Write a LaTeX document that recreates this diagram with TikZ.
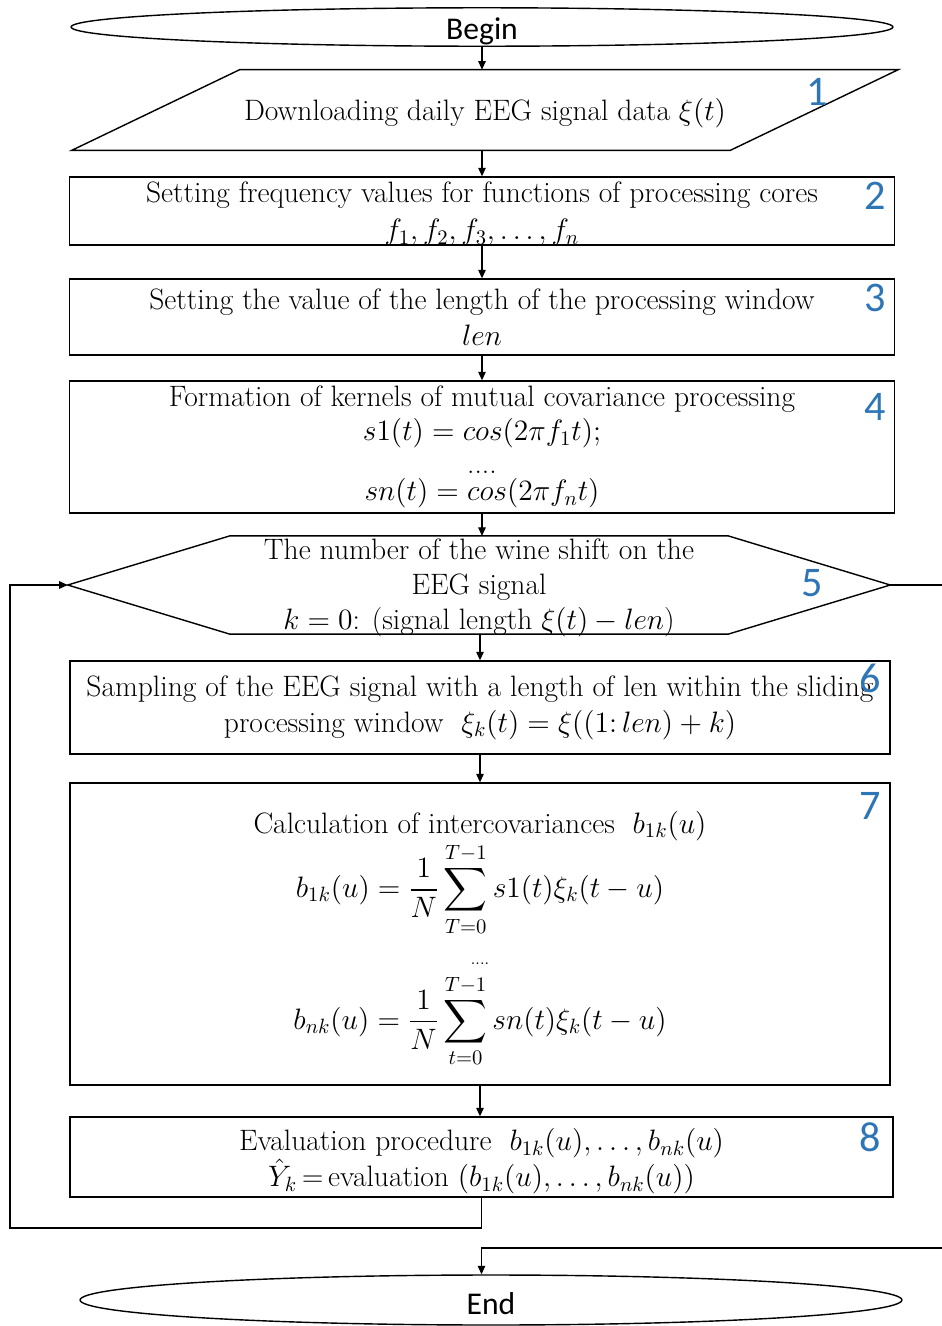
\RequirePackage{fix-cm}
\documentclass[tikz,border=0pt]{standalone}
\usepackage{amsmath}
\usepackage{fontspec}
\newfontfamily\calibri{Carlito}
\usetikzlibrary{calc, positioning}
\usetikzlibrary{shapes.geometric}
\usetikzlibrary{arrows.meta}
\definecolor{tagblue}{RGB}{46,117,182}
\newcommand{\lowered}[2]{\raisebox{-#1}[\height][\depth]{#2}}

\begin{document}
\begin{tikzpicture}[x=0.02cm, y=-0.02cm,
  txt/.style={font=\fontsize{16.8}{20.5}\selectfont, align=center, inner sep=0pt},
  block/.style={txt, draw, thick, minimum width=16.5cm, minimum height=#1},
  term/.style={ellipse, draw, thick, minimum width=16.44cm, minimum height=#1,
    inner sep=0pt, font=\calibri\fontsize{18}{20}\selectfont},
  tag/.style={font=\calibri\fontsize{24}{26}\selectfont, text=tagblue, inner sep=0pt},
  flow/.style={-{Triangle[length=1.7mm, width=1.5mm]}, semithick},
  wire/.style={semithick}]
\useasboundingbox (0,0) rectangle (942,1326);

% terminals
\node[term=0.76cm] (begin) at (482,27) {\lowered{2.5pt}{Begin}};
\node[term=1.0cm] (end) at (491,1300) {\lowered{2pt}{End}};

% input parallelogram
\node[txt, minimum width=16.52cm, minimum height=1.6cm] (load) at (485,110)
  {\lowered{2pt}{Downloading daily EEG signal data $\xi(t)$}};
\draw[thick] ([xshift=3.36cm]load.north west) -- (load.north east)
  -- ([xshift=-3.36cm]load.south east) -- (load.south west) -- cycle;

% process blocks
\node[block=1.36cm] (freq) at (482,211)
  {\lowered{1.5pt}{Setting frequency values for functions of processing cores}\\[0.5pt]
   \lowered{1.5pt}{$f_1, f_2, f_3, \ldots, f_n$}};
\node[block=1.52cm] (window) at (482,317)
  {Setting the value of the length of the processing window\\ $len$};
\node[block=2.64cm] (kernel) at (482,447)
  {Formation of kernels of mutual covariance processing\\[-1pt]
   $s1(t) = cos(2\pi f_1 t);$\\[-2pt]
   ....\\[-5pt]
   $sn(t) = cos(2\pi f_n t)$};

% loop hexagon
\node[txt, minimum width=16.44cm, minimum height=1.88cm] (shift) at (479,585)
  {\lowered{1.5pt}{The number of the wine shift on the}\\[-0.5pt]
   \lowered{1.5pt}{EEG signal}\\[-1pt]
   \lowered{1.5pt}{$k = 0$: (signal length $\xi(t) - len$)}};
\draw[thick] (shift.west) -- ([xshift=3.24cm]shift.north west)
  -- ([xshift=-3.24cm]shift.north east) -- (shift.east)
  -- ([xshift=-3.24cm]shift.south east) -- ([xshift=3.24cm]shift.south west) -- cycle;

\node[block=1.86cm, minimum width=16.4cm] (sample) at (480,707.5)
  {Sampling of the EEG signal with a length of len within the sliding\\
   processing window\ \ $\xi_k(t) = \xi((1{:}\,len) + k)$};
\node[block=6.04cm, minimum width=16.4cm] (calc) at (480,934)
  {\lowered{3pt}{Calculation of intercovariances\ \ $b_{1k}(u)$}\\[0pt]
   \lowered{3pt}{$\displaystyle b_{1k}(u) = \frac{1}{N}\sum_{T=0}^{T-1} s1(t)\xi_k(t-u)$}\\[14pt]
   \lowered{3pt}{\small ....}\\[4.5pt]
   \lowered{3pt}{$\displaystyle b_{nk}(u) = \frac{1}{N}\sum_{t=0}^{T-1} sn(t)\xi_k(t-u)$}};
\node[block=1.6cm, minimum width=16.46cm] (eval) at (481.5,1157)
  {\lowered{2.5pt}{Evaluation procedure\ \ $b_{1k}(u), \ldots, b_{nk}(u)$}\\
   \lowered{2.5pt}{$\hat{Y}_k$\,=\,evaluation $(b_{1k}(u), \ldots, b_{nk}(u))$}};

% step numbers
\foreach \n/\px/\py in {1/817/92, 2/875/196, 3/875/298, 4/875/407,
                        5/812/583, 6/870/678, 7/870/806, 8/870/1137}
  \node[tag] (tag\n) at (\px,\py) {\n};

% connectors
\draw[flow] (begin.south) -- (begin.south |- load.north);
\draw[flow] (load.south -| freq.north) -- (freq.north);
\draw[flow] (freq.south) -- (window.north);
\draw[flow] (window.south) -- (kernel.north);
\draw[flow] (kernel.south) -- (kernel.south |- shift.north);
\draw[flow] (shift.south -| sample.north) -- (sample.north);
\draw[flow] (sample.south) -- (calc.north);
\draw[flow] (calc.south) -- (calc.south |- eval.north);

\coordinate (loopL) at (10,1228);
\coordinate (exitR) at (952,1248);
\draw[flow] (eval.south) |- (loopL) |- (shift.west);
\draw[flow] (shift.east) -| (exitR) -| (end.north -| eval.south);
\end{tikzpicture}
\end{document}
